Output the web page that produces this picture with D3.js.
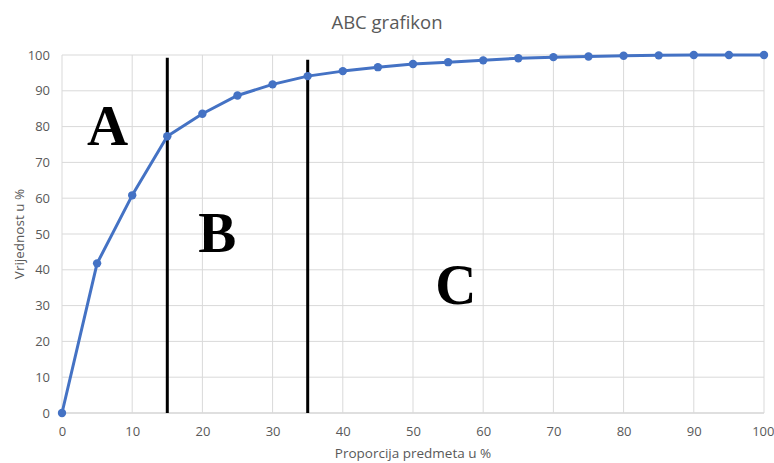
<!DOCTYPE html>
<html><head><meta charset="utf-8">
<script src="https://cdn.jsdelivr.net/npm/d3@7/dist/d3.min.js"></script>
<style>body{margin:0;background:#fff;} text{font-family:"Open Sans","Liberation Sans",sans-serif;}</style>
</head><body>
<svg id="c" width="774" height="463"></svg>
<script>
const xValues = [0,5,10,15,20,25,30,35,40,45,50,55,60,65,70,75,80,85,90,95,100];
const yValues = [0,41.8,60.8,77.3,83.6,88.7,91.8,94.1,95.5,96.6,97.5,98.0,98.5,99.1,99.4,99.6,99.8,99.9,100,100,100];
const xTicks = [0,10,20,30,40,50,60,70,80,90,100];
const yTicks = [0,10,20,30,40,50,60,70,80,90,100];
const dividers = [{x:15,top:99.2},{x:35,top:98.7}];
const zoneLabels = [{t:"A",x:6.5,y:75},{t:"B",x:22.1,y:45},{t:"C",x:56.1,y:30.5}];
const title = "ABC grafikon";
const xTitle = "Proporcija predmeta u %";
const yTitle = "Vrijednost u %";

const svg = d3.select("#c");
const L=62, R=764, T=55, B=413;
const x = d3.scaleLinear().domain([0,100]).range([L,R]);
const y = d3.scaleLinear().domain([0,100]).range([B,T]);

// gridlines
svg.append("g").selectAll("line").data(yTicks).join("line")
  .attr("x1",L).attr("x2",R).attr("y1",d=>y(d)).attr("y2",d=>y(d))
  .attr("stroke",d=>d===0?"#bfbfbf":"#d9d9d9").attr("stroke-width",1);
svg.append("g").selectAll("line").data(xTicks).join("line")
  .attr("y1",T).attr("y2",B).attr("x1",d=>x(d)).attr("x2",d=>x(d))
  .attr("stroke","#d9d9d9").attr("stroke-width",1);

// axes
const xa = svg.append("g").attr("transform",`translate(0,${B})`)
  .call(d3.axisBottom(x).tickValues(xTicks).tickSize(0).tickPadding(14));
xa.select(".domain").remove();
xa.selectAll("text").attr("fill","#595959").style("font-size","13px");
// keep the last label inside the frame
xa.selectAll(".tick").filter(d=>d===100).select("text")
  .attr("text-anchor","end").attr("dx","10px");
const ya = svg.append("g").attr("transform",`translate(${L},0)`)
  .call(d3.axisLeft(y).tickValues(yTicks).tickSize(0).tickPadding(12));
ya.select(".domain").remove();
ya.selectAll("text").attr("fill","#595959").style("font-size","13px");

// dividers
svg.append("g").selectAll("line").data(dividers).join("line")
  .attr("x1",d=>x(d.x)).attr("x2",d=>x(d.x)).attr("y1",d=>y(d.top)).attr("y2",y(0))
  .attr("stroke","#000").attr("stroke-width",3);

// line
const data = xValues.map((v,i)=>({x:v,y:yValues[i]}));
svg.append("path").datum(data)
  .attr("d",d3.line().x(d=>x(d.x)).y(d=>y(d.y)))
  .attr("fill","none").attr("stroke","#4472C4").attr("stroke-width",3).attr("stroke-linejoin","round");
svg.append("g").selectAll("circle").data(data).join("circle")
  .attr("cx",d=>x(d.x)).attr("cy",d=>y(d.y)).attr("r",4.2).attr("fill","#4472C4");

// zone labels
svg.append("g").selectAll("text").data(zoneLabels).join("text")
  .attr("x",d=>x(d.x)).attr("y",d=>y(d.y)).attr("text-anchor","middle")
  .style("font-family","'Liberation Serif','DejaVu Serif',serif").style("font-weight","bold").style("font-size","57px")
  .attr("fill","#000").text(d=>d.t);

// titles
svg.append("text").attr("x",387).attr("y",29).attr("text-anchor","middle")
  .attr("fill","#595959").style("font-size","18.5px").text(title);
svg.append("text").attr("x",413).attr("y",458).attr("text-anchor","middle")
  .attr("fill","#595959").style("font-size","13.5px").text(xTitle);
svg.append("text").attr("transform","translate(24,234) rotate(-90)").attr("text-anchor","middle")
  .attr("fill","#595959").style("font-size","13.5px").text(yTitle);
</script>
</body></html>
